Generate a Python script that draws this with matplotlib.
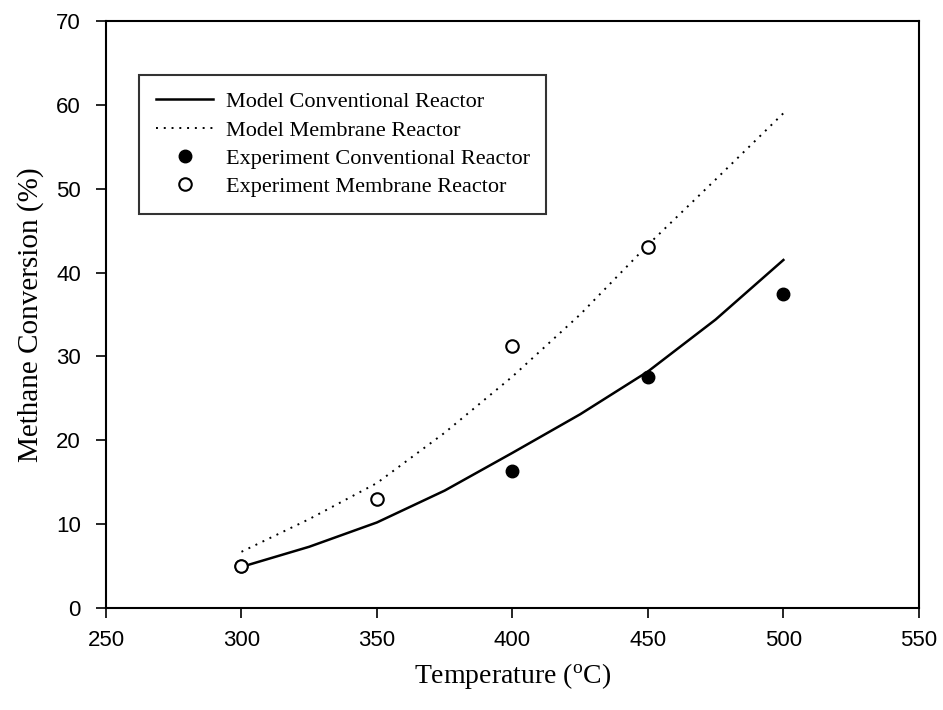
import matplotlib
matplotlib.use("Agg")
import matplotlib.pyplot as plt

# Data
model_T = [300, 325, 350, 375, 400, 425, 450, 475, 500]
model_conv = [4.9, 7.3, 10.2, 14.0, 18.5, 23.1, 28.2, 34.4, 41.5]
model_memb = [6.7, 10.6, 14.9, 20.9, 27.6, 35.0, 43.3, 51.1, 59.0]

exp_conv_T = [300, 400, 450, 500]
exp_conv = [5.0, 16.3, 27.5, 37.5]
exp_memb_T = [300, 350, 400, 450]
exp_memb = [5.0, 13.0, 31.2, 43.0]

xticks = [250, 300, 350, 400, 450, 500, 550]
yticks = [0, 10, 20, 30, 40, 50, 60, 70]

serif = ["Liberation Serif", "DejaVu Serif"]
sans = ["Liberation Sans", "DejaVu Sans"]

fig = plt.figure(figsize=(9.43, 7.10), dpi=100)
ax = fig.add_axes([0.1124, 0.1437, 0.862, 0.8267])

ax.plot(model_T, model_conv, color="black", lw=1.8, label="Model Conventional Reactor")
ax.plot(model_T, model_memb, color="black", lw=1.4, linestyle=(0, (1, 3)),
        label="Model Membrane Reactor")
ax.plot(exp_conv_T, exp_conv, "o", color="black", ms=9, mec="black",
        label="Experiment Conventional Reactor", zorder=3)
ax.plot(exp_memb_T, exp_memb, "o", mfc="white", mec="black", mew=1.5, ms=9,
        label="Experiment Membrane Reactor", zorder=4)

ax.set_xlim(250, 550)
ax.set_ylim(0, 70)
ax.set_xticks(xticks)
ax.set_yticks(yticks)
for s in ax.spines.values():
    s.set_linewidth(1.5)
ax.tick_params(direction="out", length=7, width=1.2, labelsize=16)
ax.tick_params(axis="x", pad=9)
ax.tick_params(axis="y", pad=11)
for lab in ax.get_xticklabels() + ax.get_yticklabels():
    lab.set_family(sans)

ax.set_xlabel("Temperature ($\\mathregular{^{o}}$C)", fontsize=20, family=serif, labelpad=7)
ax.set_ylabel("Methane Conversion (%)", fontsize=21, family=serif, labelpad=9)

leg = ax.legend(loc="upper left", bbox_to_anchor=(0.0406, 0.908), frameon=True,
                fancybox=False, edgecolor="black", prop={"family": serif, "size": 16},
                handlelength=2.6, handletextpad=0.55, labelspacing=0.35,
                borderpad=0.75, borderaxespad=0)
leg.get_frame().set_linewidth(1.5)

fig.savefig("out.png", dpi=100)
